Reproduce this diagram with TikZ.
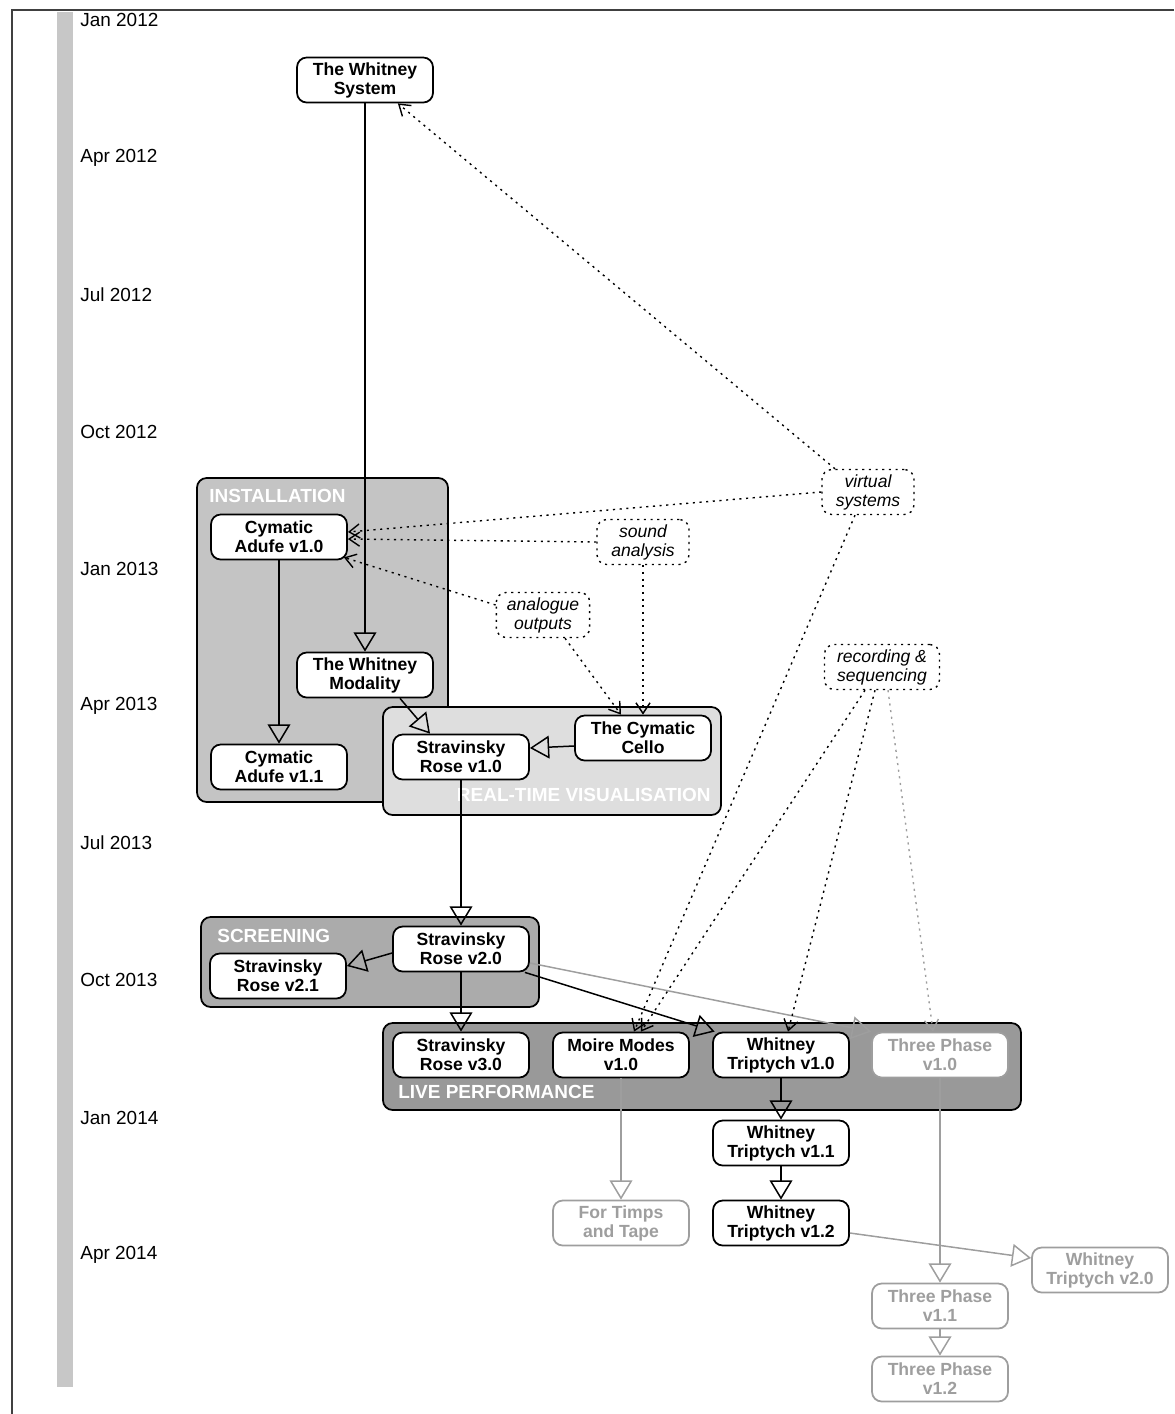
\documentclass[tikz,border=0pt]{standalone}
\usepackage{fontspec}
\setmainfont{Liberation Sans}
\usetikzlibrary{arrows.meta}
\definecolor{fade}{gray}{0.62}
\definecolor{instgray}{gray}{0.77}
\definecolor{rtgray}{gray}{0.87}
\definecolor{scrgray}{gray}{0.67}
\definecolor{livegray}{gray}{0.60}
\definecolor{bargray}{gray}{0.78}
\definecolor{framegray}{gray}{0.25}
\tikzset{
 box/.style={draw, line width=1pt, rounded corners=5.5pt, fill=white, minimum width=2.72cm, minimum height=0.9cm, inner sep=1pt, align=center, font=\bfseries\fontsize{10}{10.8}\selectfont},
 faded/.style={box, draw=fade, text=fade},
 note/.style={draw, line width=0.8pt, dash pattern=on 1.2pt off 2.6pt, rounded corners=5.5pt, fill=white, minimum width=1.84cm, minimum height=0.9cm, inner xsep=6pt, inner ysep=1pt, align=center, font=\itshape\fontsize{10}{10.8}\selectfont},
 grp/.style={draw, line width=1pt, rounded corners=5.5pt},
 glabel/.style={text=white, font=\bfseries\fontsize{10.8}{12}\selectfont, inner sep=0},
 datelbl/.style={anchor=west, inner sep=0, font=\fontsize{10.8}{12}\selectfont},
 inh/.style={line width=0.85pt, -{Triangle[open, length=11pt, width=13pt]}},
 inhf/.style={inh, draw=fade},
 dep/.style={line width=0.8pt, dash pattern=on 1.2pt off 2.6pt, -{Straight Barb[length=6pt, width=8pt]}},
 depf/.style={dep, draw=fade},
}
\begin{document}
\begin{tikzpicture}[x=0.02cm, y=-0.02cm]
\useasboundingbox (0,0) rectangle (1174,1414);
% frame and timeline
\draw[framegray, line width=1pt] (12,1414) -- (12,10) -- (1174,10);
\fill[bargray] (57,12) rectangle (73,1387);
\node[datelbl] (d1) at (80,20) {Jan 2012};
\node[datelbl] (d2) at (80,158) {Apr 2012};
\node[datelbl] (d3) at (80,295) {Jul 2012};
\node[datelbl] (d4) at (80,432) {Oct 2012};
\node[datelbl] (d5) at (80,569) {Jan 2013};
\node[datelbl] (d6) at (80,706) {Apr 2013};
\node[datelbl] (d7) at (80,843) {Jul 2013};
\node[datelbl] (d8) at (80,980) {Oct 2013};
\node[datelbl] (d9) at (80,1118) {Jan 2014};
\node[datelbl] (d10) at (80,1255) {Apr 2014};
% groups
\draw[grp, fill=instgray] (197,478) rectangle (448,802);
\draw[grp, fill=rtgray] (383,707) rectangle (721,815);
\draw[grp, fill=scrgray] (201,917) rectangle (539,1007);
\draw[grp, fill=livegray] (383,1023) rectangle (1021,1110);
\node[glabel, anchor=west] (linst) at (209,496) {INSTALLATION};
\node[glabel, anchor=east] (lrt) at (711,795) {REAL-TIME VISUALISATION};
\node[glabel, anchor=west] (lscr) at (217,936) {SCREENING};
\node[glabel, anchor=west] (llive) at (398,1092) {LIVE PERFORMANCE};
% nodes
\node[box] (ws) at (365,80) {The Whitney\\System};
\node[box] (ca10) at (279,537) {Cymatic\\Adufe v1.0};
\node[box] (wmod) at (365,675) {The Whitney\\Modality};
\node[box] (ca11) at (279,767) {Cymatic\\Adufe v1.1};
\node[box] (sr10) at (461,757) {Stravinsky\\Rose v1.0};
\node[box] (cello) at (643,738) {The Cymatic\\Cello};
\node[box] (sr20) at (461,949) {Stravinsky\\Rose v2.0};
\node[box] (sr21) at (278,976) {Stravinsky\\Rose v2.1};
\node[box] (sr30) at (461,1055) {Stravinsky\\Rose v3.0};
\node[box] (mm10) at (621,1055) {Moire Modes\\v1.0};
\node[box] (wt10) at (781,1055) {Whitney\\Triptych v1.0};
\node[faded] (tp10) at (940,1055) {Three Phase\\v1.0};
\node[box] (wt11) at (781,1143) {Whitney\\Triptych v1.1};
\node[box] (wt12) at (781,1223) {Whitney\\Triptych v1.2};
\node[faded] (ftt) at (621,1223) {For Timps\\and Tape};
\node[faded] (tp11) at (940,1306) {Three Phase\\v1.1};
\node[faded] (tp12) at (940,1379) {Three Phase\\v1.2};
\node[faded] (wt20) at (1100,1270) {Whitney\\Triptych v2.0};
% notes
\node[note] (vs) at (868,492) {virtual\\systems};
\node[note] (sa) at (643,542) {sound\\analysis};
\node[note] (ao) at (543,615) {analogue\\outputs};
\node[note, minimum width=2.3cm] (rs) at (882,667) {recording \&\\sequencing};
% solid edges
\draw[inh] (ws) -- (wmod);
\draw[inh] (ca10) -- (ca11);
\draw[inh] ([xshift=0.7cm]wmod.south) -- ([xshift=-0.62cm]sr10.north);
\draw[inh] ([yshift=-0.16cm]cello.west) -- ([yshift=0.18cm]sr10.east);
\draw[inh] (sr10) -- (sr20);
\draw[inh] ([yshift=-0.08cm]sr20.west) -- ([yshift=0.2cm]sr21.east);
\draw[inh] (sr20) -- (sr30);
\draw[inh] ([xshift=-0.1cm]sr20.south east) -- ([xshift=0.05cm]wt10.north west);
\draw[inhf] ([yshift=-0.28cm]sr20.east) -- (tp10.north west);
\draw[inh] (wt10) -- (wt11);
\draw[inh] (wt11) -- (wt12);
\draw[inhf] (mm10) -- (ftt);
\draw[inhf] (tp10) -- (tp11);
\draw[inhf] (tp11) -- (tp12);
\draw[inhf] ([yshift=-0.2cm]wt12.east) -- ([yshift=0.24cm]wt20.west);
% dotted edges
\draw[dep] ([xshift=-0.66cm]vs.north) -- ([xshift=-0.72cm]ws.south east);
\draw[dep] (vs.west) -- ([yshift=0.1cm]ca10.east);
\draw[dep] (sa.west) -- ([yshift=-0.04cm]ca10.east);
\draw[dep] ([yshift=0.2cm]ao.west) -- ([xshift=-0.08cm,yshift=0.06cm]ca10.south east);
\draw[dep] ([xshift=0.44cm]ao.south) -- ([xshift=-0.44cm]cello.north);
\draw[dep] (sa) -- (cello);
\draw[dep] ([xshift=-0.26cm]vs.south) -- ([xshift=0.26cm]mm10.north);
\draw[dep] ([xshift=-0.34cm]rs.south) -- ([xshift=0.4cm]mm10.north);
\draw[dep] ([xshift=-0.14cm]rs.south) -- ([xshift=0.14cm]wt10.north);
\draw[depf] ([xshift=0.12cm]rs.south) -- ([xshift=-0.14cm]tp10.north);
\end{tikzpicture}
\end{document}
